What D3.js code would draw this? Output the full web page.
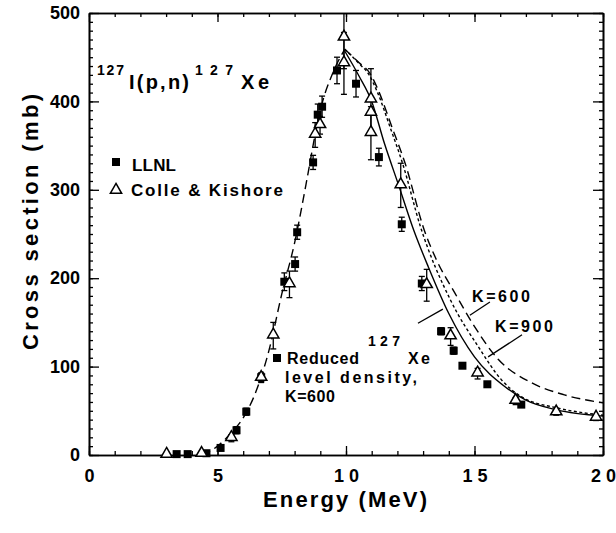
<!DOCTYPE html>
<html>
<head>
<meta charset="utf-8">
<script src="https://cdn.jsdelivr.net/npm/d3@7"></script>
<style>
body { margin: 0; background: #fff; }
text { font-family: "Liberation Sans", Arial, sans-serif; font-weight: bold; fill: #000; }
</style>
</head>
<body>
<div id="chart"></div>
<script>
// axis ticks
const xTicks = [0, 5, 10, 15, 20];
const yTicks = [0, 100, 200, 300, 400, 500];

// LLNL measurements (filled squares)
const llnlE   = [3.41, 3.84, 4.57, 5.12, 5.74, 6.12, 6.7, 7.6, 8.02, 8.1, 8.72, 8.9, 9.07, 9.65, 10.39, 11.28, 12.17, 12.95, 13.7, 14.19, 14.53, 15.5, 16.82];
const llnlS   = [1, 1, 2, 8, 28, 49, 88, 196, 216, 252, 331, 385, 394, 435, 420, 337, 261, 194, 140, 118, 101, 80, 57];
const llnlErr = [0, 0, 0, 3, 4, 4, 5, 10, 8, 8, 8, 12, 12, 15, 15, 10, 8, 8, 4, 4, 3, 3, 3];

// Colle & Kishore (open triangles)
const ckE   = [3.02, 4.38, 5.54, 6.7, 7.17, 7.8, 8.8, 8.99, 9.92, 9.92, 10.97, 10.97, 10.97, 12.13, 13.14, 14.07, 15.12, 16.6, 18.18, 19.73];
const ckS   = [0, 1, 19, 87, 135, 193, 362, 373, 472, 443, 402, 387, 364, 305, 192, 134, 92, 61, 48, 42];
const ckErr = [0, 0, 4, 5, 15, 15, 14, 10, 35, 35, 35, 0, 30, 25, 18, 10, 6, 4, 3, 3];

// calculations
const riseE = [4.4, 5.0, 5.5, 6.0, 6.5, 7.0, 7.5, 8.0, 8.5, 8.75, 9.0, 9.5, 9.95];
const riseS = [0, 10, 24, 42, 72, 118, 182, 240, 315, 355, 390, 433, 459];

const solidE = [9.95, 10.5, 11.0, 11.5, 12.05, 12.64, 13.2, 14.0, 15.0, 16.2, 17.0, 18.2, 20.0];
const solidS = [457, 429, 400, 352, 305, 254, 213, 160, 111, 77, 62, 51, 44];

const shortE = [9.95, 10.5, 10.9, 11.2, 11.75, 12.2, 12.9, 14.07, 15.16, 16.05, 16.82, 18.26, 20.0];
const shortS = [459, 443, 430, 412, 368, 330, 258, 175, 122, 85, 66, 53, 45];

const longE = [9.95, 10.5, 10.95, 11.25, 11.8, 12.3, 13.05, 13.5, 14.26, 14.9, 15.93, 17.2, 18.5, 20.0];
const longS = [459, 444, 431, 413, 370, 330, 254, 222, 182, 150, 108, 82, 68, 59];

// leader lines [E1, S1, E2, S2]
const leaders = [
  [12.8, 149, 13.77, 165],
  [14.82, 158, 15.6, 173],
  [15.53, 111, 16.85, 136]
];

const W = 616, H = 533;
const svg = d3.select('#chart').append('svg')
  .attr('width', W)
  .attr('height', H);

const x = d3.scaleLinear().domain([0, 20]).range([89, 603]);
const y = d3.scaleLinear().domain([0, 500]).range([455, 13]);

const minorX = d3.range(0, 21, 1);
const minorY = d3.range(0, 501, 10);

function styleAxis(g) {
  g.select('.domain').attr('stroke', '#000').attr('stroke-width', 1.6);
  g.selectAll('.tick line').attr('stroke', '#000').attr('stroke-width', 1.3);
}

// minor ticks (inward)
svg.append('g').attr('transform', 'translate(0,455)')
  .call(d3.axisBottom(x).tickValues(minorX).tickSize(-4).tickSizeOuter(0).tickFormat(''))
  .call(styleAxis);
svg.append('g').attr('transform', 'translate(0,13)')
  .call(d3.axisTop(x).tickValues(minorX).tickSize(-4).tickSizeOuter(0).tickFormat(''))
  .call(styleAxis);
svg.append('g').attr('transform', 'translate(89,0)')
  .call(d3.axisLeft(y).tickValues(minorY).tickSize(-4).tickSizeOuter(0).tickFormat(''))
  .call(styleAxis);
svg.append('g').attr('transform', 'translate(603,0)')
  .call(d3.axisRight(y).tickValues(minorY).tickSize(-4).tickSizeOuter(0).tickFormat(''))
  .call(styleAxis);

// major ticks
const xAxis = svg.append('g').attr('transform', 'translate(0,455)')
  .call(d3.axisBottom(x).tickValues(xTicks).tickSize(-9).tickSizeOuter(0).tickPadding(14)
    .tickFormat(d => String(d).split('').join(' ')))
  .call(styleAxis);
svg.append('g').attr('transform', 'translate(0,13)')
  .call(d3.axisTop(x).tickValues(xTicks).tickSize(-9).tickSizeOuter(0).tickFormat(''))
  .call(styleAxis);
const yAxis = svg.append('g').attr('transform', 'translate(89,0)')
  .call(d3.axisLeft(y).tickValues(yTicks).tickSize(-10).tickSizeOuter(0).tickPadding(9))
  .call(styleAxis);
svg.append('g').attr('transform', 'translate(603,0)')
  .call(d3.axisRight(y).tickValues(yTicks).tickSize(-10).tickSizeOuter(0).tickFormat(''))
  .call(styleAxis);

xAxis.selectAll('text').attr('font-size', 18).attr('font-family', null).attr('fill', '#000')
  .style('white-space', 'pre');
yAxis.selectAll('text').attr('font-size', 18).attr('font-family', null).attr('fill', '#000');

// curves
const line = d3.line().x(d => x(d[0])).y(d => y(d[1])).curve(d3.curveMonotoneX);
const zip = (a, b) => a.map((v, i) => [v, b[i]]);

svg.append('path').datum(zip(riseE, riseS))
  .attr('d', line).attr('fill', 'none').attr('stroke', '#000').attr('stroke-width', 1.4)
  .attr('stroke-dasharray', '9,5');
svg.append('path').datum(zip(longE, longS))
  .attr('d', line).attr('fill', 'none').attr('stroke', '#000').attr('stroke-width', 1.4)
  .attr('stroke-dasharray', '9,5');
svg.append('path').datum(zip(shortE, shortS))
  .attr('d', line).attr('fill', 'none').attr('stroke', '#000').attr('stroke-width', 1.4)
  .attr('stroke-dasharray', '3,2.5');
svg.append('path').datum(zip(solidE, solidS))
  .attr('d', line).attr('fill', 'none').attr('stroke', '#000').attr('stroke-width', 1.4);

// error bars
function errBars(E, S, Err) {
  const data = E.map((e, i) => ({ e: e, s: S[i], err: Err[i] })).filter(d => d.err > 0);
  const g = svg.append('g').attr('stroke', '#000').attr('stroke-width', 1.3);
  data.forEach(d => {
    const top = y(Math.min(d.s + d.err, 500)), bot = y(d.s - d.err);
    g.append('line').attr('x1', x(d.e)).attr('x2', x(d.e)).attr('y1', top).attr('y2', bot);
    if (d.s + d.err <= 500)
      g.append('line').attr('x1', x(d.e) - 3).attr('x2', x(d.e) + 3).attr('y1', top).attr('y2', top);
    g.append('line').attr('x1', x(d.e) - 3).attr('x2', x(d.e) + 3).attr('y1', bot).attr('y2', bot);
  });
}
errBars(llnlE, llnlS, llnlErr);
errBars(ckE, ckS, ckErr);

// markers
const tri = d3.symbol().type(d3.symbolTriangle).size(55);
svg.selectAll('.sq').data(zip(llnlE, llnlS)).enter().append('rect')
  .attr('x', d => x(d[0]) - 4).attr('y', d => y(d[1]) - 4)
  .attr('width', 8).attr('height', 8).attr('fill', '#000');
svg.selectAll('.tri').data(zip(ckE, ckS)).enter().append('path')
  .attr('d', tri)
  .attr('transform', d => `translate(${x(d[0])},${y(d[1]) - 1})`)
  .attr('fill', '#fff').attr('stroke', '#000').attr('stroke-width', 1.5);

// leader lines
svg.selectAll('.lead').data(leaders).enter().append('line')
  .attr('x1', d => x(d[0])).attr('y1', d => y(d[1]))
  .attr('x2', d => x(d[2])).attr('y2', d => y(d[3]))
  .attr('stroke', '#000').attr('stroke-width', 1.3);

// text
function label(px, py, str, size, len) {
  const t = svg.append('text').attr('x', px).attr('y', py).attr('font-size', size).text(str);
  if (len) t.attr('textLength', len).attr('lengthAdjust', 'spacing');
  return t;
}

// title
label(97, 75, '127', 14, 27);
label(129, 89, 'I(p,n)', 20, 60);
label(195, 75, '127', 14, 38);
label(241, 89, 'Xe', 20, 28);

// legend
svg.append('rect').attr('x', 112).attr('y', 158).attr('width', 8).attr('height', 8).attr('fill', '#000');
label(132, 171, 'LLNL', 17, 44);
svg.append('path').attr('d', tri).attr('transform', 'translate(116,190)')
  .attr('fill', '#fff').attr('stroke', '#000').attr('stroke-width', 1.5);
label(131, 196, 'Colle & Kishore', 17, 152);

// annotation
svg.append('rect').attr('x', 273).attr('y', 354).attr('width', 8).attr('height', 8).attr('fill', '#000');
label(287, 364, 'Reduced', 16, 72);
label(368, 346, '127', 14, 32);
label(408, 364, 'Xe', 16, 22);
label(285, 383, 'level density,', 16, 132);
label(285, 402, 'K=600', 16, 50);
label(472, 302, 'K=600', 16, 58);
label(495, 332, 'K=900', 16, 58);

// axis titles
label(263, 507, 'Energy (MeV)', 22, 164);
svg.append('text')
  .attr('transform', 'translate(38,350) rotate(-90)')
  .attr('font-size', 22)
  .attr('textLength', 256).attr('lengthAdjust', 'spacing')
  .text('Cross section (mb)');
</script>
</body>
</html>
